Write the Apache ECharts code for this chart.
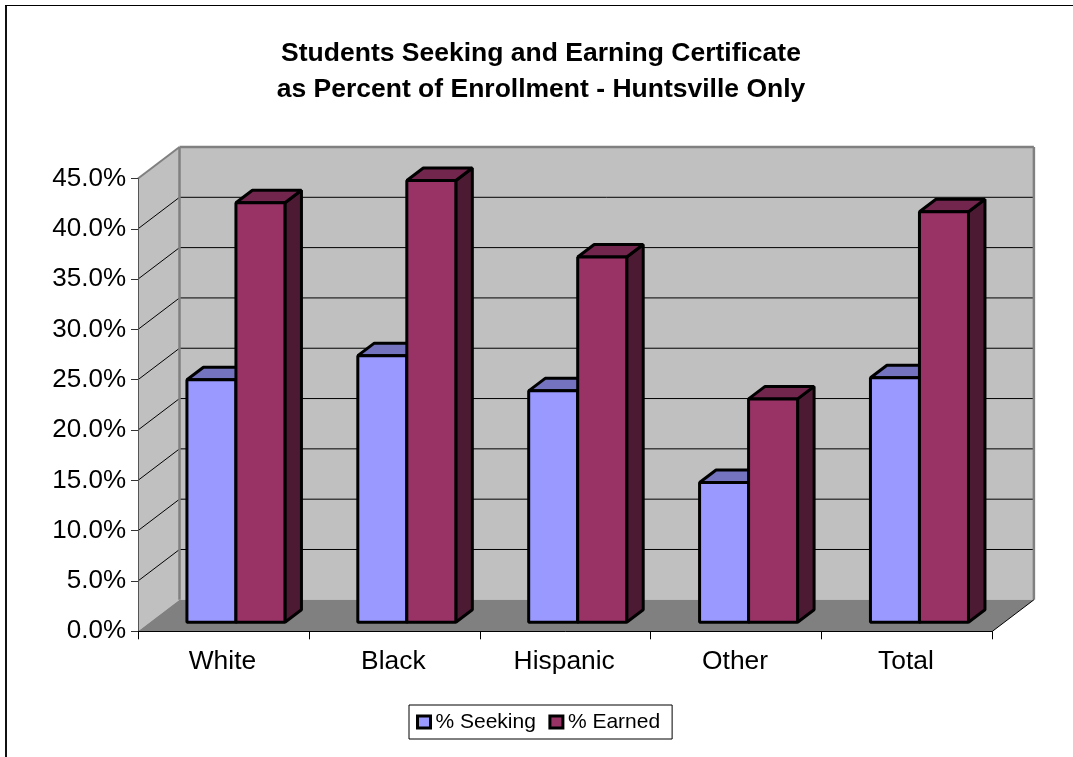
<!DOCTYPE html>
<html>
<head>
<meta charset="utf-8">
<style>html,body{margin:0;padding:0;background:#fff}#c{width:1073px;height:757px}</style>
<script src="https://cdn.jsdelivr.net/npm/echarts@6/dist/echarts.min.js"></script>
</head>
<body>
<div id="c"></div>
<script>
const categories = ['White', 'Black', 'Hispanic', 'Other', 'Total'];
const seeking = [24.1, 26.5, 23.0, 13.9, 24.3];
const earned = [41.7, 43.9, 36.3, 22.2, 40.8];
const yTicks = [0, 5, 10, 15, 20, 25, 30, 35, 40, 45];

const FONT = '"Liberation Sans", Arial, sans-serif';
const wallDx = 41.5, wallDy = -31.5;
const barDx = 12.5, barDy = -9;
const depthDx = 16.5, depthDy = -12.5;
const barFrac = 0.2868;

function wallsRender(params, api) {
  const o = api.coord([0, 0]);
  const band = api.size([1, 0])[0];
  const left = o[0] - band / 2;
  const right = left + band * categories.length;
  const bottom = api.coord([0, 0])[1];
  const top = api.coord([0, 45])[1];
  const ch = [];
  const poly = (pts, fill) => ({ type: 'polygon', shape: { points: pts }, style: { fill: fill, stroke: null } });
  const seg = (x1, y1, x2, y2, stroke, w) => ({ type: 'line', shape: { x1, y1, x2, y2 }, style: { stroke, lineWidth: w } });
  ch.push(poly([[left, top], [left + wallDx, top + wallDy], [left + wallDx, bottom + wallDy], [left, bottom]], '#c0c0c0'));
  ch.push(poly([[left + wallDx, top + wallDy], [right + wallDx, top + wallDy], [right + wallDx, bottom + wallDy], [left + wallDx, bottom + wallDy]], '#c0c0c0'));
  ch.push(poly([[left, bottom], [left + wallDx, bottom + wallDy], [right + wallDx, bottom + wallDy], [right, bottom]], '#808080'));
  yTicks.forEach(t => {
    if (t === 0 || t === 45) return;
    const y = api.coord([0, t])[1];
    ch.push(seg(left, y, left + wallDx, y + wallDy, '#000', 1));
    ch.push(seg(left + wallDx, y + wallDy, right + wallDx, y + wallDy, '#000', 1));
  });
  ch.push(seg(left + wallDx, top + wallDy, left + wallDx, bottom + wallDy, '#808080', 2.5));
  ch.push(seg(left + wallDx, top + wallDy, right + wallDx, top + wallDy, '#808080', 2.5));
  ch.push(seg(right + wallDx, top + wallDy, right + wallDx, bottom + wallDy, '#808080', 2.5));
  ch.push(seg(left, top, left + wallDx, top + wallDy, '#808080', 2));
  ch.push(seg(right, bottom, right + wallDx, bottom + wallDy, '#000', 1));
  return { type: 'group', children: ch };
}

function barRender(side, front, topFace, sideFace) {
  return function (params, api) {
    const cat = api.value(0), val = api.value(1);
    const p = api.coord([cat, val]);
    const b = api.coord([cat, 0]);
    const w = api.size([1, 0])[0] * barFrac;
    const x0 = p[0] + barDx + (side < 0 ? -w : 0);
    const x1 = x0 + w;
    const yT = p[1] + barDy, yB = b[1] + barDy;
    const st = (fill) => ({ fill, stroke: '#000', lineWidth: 3, lineJoin: 'bevel' });
    return {
      type: 'group',
      children: [
        { type: 'polygon', shape: { points: [[x1, yT], [x1 + depthDx, yT + depthDy], [x1 + depthDx, yB + depthDy], [x1, yB]] }, style: st(sideFace) },
        { type: 'polygon', shape: { points: [[x0, yT], [x0 + depthDx, yT + depthDy], [x1 + depthDx, yT + depthDy], [x1, yT]] }, style: st(topFace) },
        { type: 'polygon', shape: { points: [[x0, yT], [x1, yT], [x1, yB], [x0, yB]] }, style: st(front) }
      ]
    };
  };
}

const chart = echarts.init(document.getElementById('c'), null, { renderer: 'canvas', width: 1073, height: 757 });
chart.setOption({
  animation: false,
  backgroundColor: '#fff',
  textStyle: { fontFamily: FONT },
  title: {
    text: 'Students Seeking and Earning Certificate\nas Percent of Enrollment - Huntsville Only',
    left: 536, top: 31, textAlign: 'center',
    textStyle: { fontFamily: FONT, fontSize: 26.5, fontWeight: 'bold', color: '#000', lineHeight: 36 }
  },
  legend: {
    left: 409, top: 705,
    data: ['% Seeking', '% Earned'],
    padding: [6.5, 12, 6.5, 7],
    itemWidth: 13, itemHeight: 12, itemGap: 12.5,
    icon: 'rect',
    borderColor: '#000', borderWidth: 1,
    itemStyle: { borderColor: '#000', borderWidth: 3 },
    textStyle: { fontFamily: FONT, fontSize: 21, color: '#000' }
  },
  grid: { left: 138, top: 178.5, width: 854.4, height: 452.8, containLabel: false },
  xAxis: {
    type: 'category', data: categories, z: 10,
    axisLine: { show: true, lineStyle: { color: '#000', width: 1 } },
    axisTick: { show: true, length: 8, lineStyle: { color: '#000' } },
    axisLabel: { margin: 17, padding: [0, 2, 0, 0], fontFamily: FONT, fontSize: 26.4, color: '#000', interval: 0 },
    splitLine: { show: false }
  },
  yAxis: {
    type: 'value', min: 0, max: 45, interval: 5, z: 10,
    axisLine: { show: true, lineStyle: { color: '#555', width: 1 } },
    axisTick: { show: true, length: 7, lineStyle: { color: '#333' } },
    axisLabel: { margin: 12, padding: [4, 0, 0, 0], fontFamily: FONT, fontSize: 26, color: '#000', formatter: v => v.toFixed(1) + '%' },
    splitLine: { show: false }
  },
  series: [
    { type: 'custom', name: 'walls', silent: true, z: 1, clip: false, data: [[0, 0]], encode: { x: 0, y: 1 }, renderItem: wallsRender },
    { type: 'custom', name: '% Seeking', z: 2, clip: false, encode: { x: 0, y: 1 },
      itemStyle: { color: '#9999ff' },
      data: seeking.map((v, i) => [i, v]), renderItem: barRender(-1, '#9999ff', '#7373bf', '#4d4d80') },
    { type: 'custom', name: '% Earned', z: 3, clip: false, encode: { x: 0, y: 1 },
      itemStyle: { color: '#993366' },
      data: earned.map((v, i) => [i, v]), renderItem: barRender(1, '#993366', '#73264d', '#4d1a33') }
  ],
  graphic: [
    { type: 'line', silent: true, z: 100, shape: { x1: 6, y1: 5, x2: 6, y2: 757 }, style: { stroke: '#111', lineWidth: 2 } },
    { type: 'line', silent: true, z: 100, shape: { x1: 5, y1: 5.5, x2: 1073, y2: 5.5 }, style: { stroke: '#000', lineWidth: 1 } }
  ]
});
</script>
</body>
</html>
